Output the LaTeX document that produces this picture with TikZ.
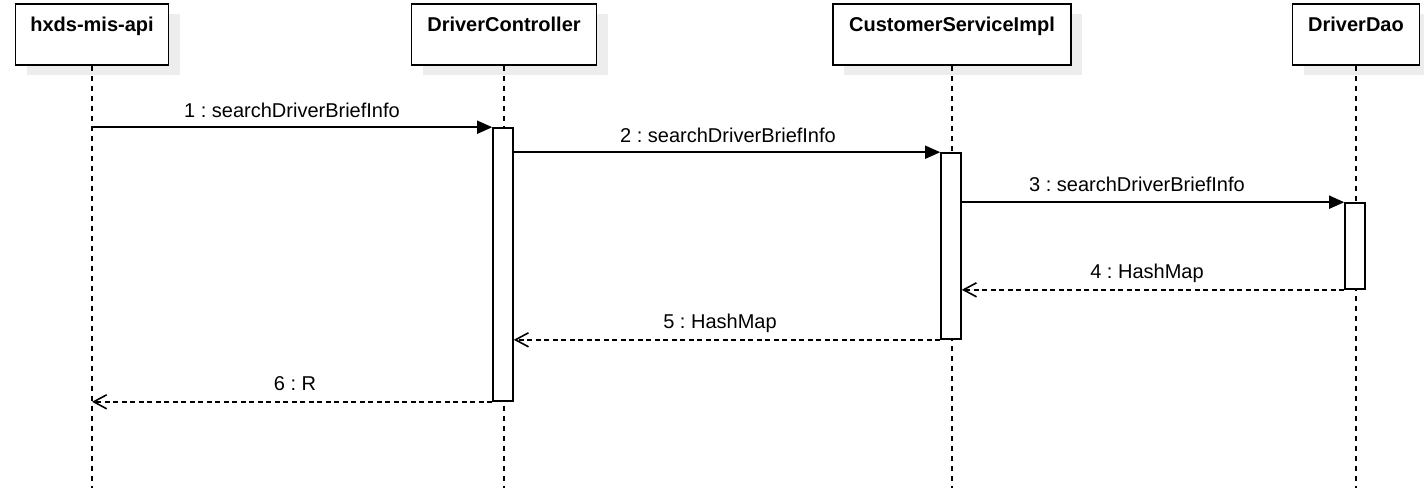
\documentclass[tikz,border=0pt]{standalone}
\usepackage{fontspec}
\setmainfont{Liberation Sans}
\usetikzlibrary{arrows.meta}
\frenchspacing
\begin{document}
\begin{tikzpicture}[x=1pt,y=-1pt,
  line width=1.6pt,
  participant/.style={draw=black, fill=white, inner xsep=0pt, inner ysep=0pt,
    minimum height=61pt, text height=27pt, text depth=34pt,
    font=\fontsize{20}{24}\selectfont\bfseries,
    preaction={fill=black!7, draw=none, transform canvas={xshift=11pt,yshift=-10pt}}},
  activation/.style={draw=black, fill=white, minimum width=20pt, inner sep=0pt},
  lifeline/.style={line width=1.4pt, dash pattern=on 5pt off 5pt},
  callmsg/.style={-{Triangle[length=15pt,width=13pt]}},
  retmsg/.style={-{Straight Barb[length=13pt,width=14pt]}, dash pattern=on 5pt off 3.5pt},
  msglabel/.style={font=\fontsize{20}{24}\selectfont, anchor=base, inner sep=0pt}
]
\useasboundingbox (0,0) rectangle (1424,498);

% participants
\node[participant, minimum width=153pt] (p1) at (92,34.5) {hxds-mis-api};
\node[participant, minimum width=185pt] (p2) at (504,34.5) {DriverController};
\node[participant, minimum width=238pt] (p3) at (952,34.5) {CustomerServiceImpl};
\node[participant, minimum width=127pt] (p4) at (1356,34.5) {DriverDao};

% lifeline ends
\coordinate (e1) at (92,488);
\coordinate (e2) at (504,488);
\coordinate (e3) at (952,488);
\coordinate (e4) at (1356,488);

\draw[lifeline] (p1.south) -- (e1);
\draw[lifeline] (p2.south) -- (e2);
\draw[lifeline] (p3.south) -- (e3);
\draw[lifeline] (p4.south) -- (e4);

% activation bars
\node[activation, minimum height=273pt] (a1) at (503,264.5) {};
\node[activation, minimum height=186pt] (a2) at (951,246) {};
\node[activation, minimum height=86pt] (a3) at (1355,246) {};

% messages
\draw[callmsg] (e1 |- a1.north) -- (a1.north west);
\node[msglabel] (m1) at (292,117) {1 : searchDriverBriefInfo};

\draw[callmsg] (a1.east |- a2.north) -- (a2.north west);
\node[msglabel] (m2) at (728,142) {2 : searchDriverBriefInfo};

\draw[callmsg] (a2.east |- a3.north) -- (a3.north west);
\node[msglabel] (m3) at (1137,191) {3 : searchDriverBriefInfo};

\draw[retmsg] (a3.south west) -- (a2.east |- a3.south);
\node[msglabel] (m4) at (1147,278) {4 : HashMap};

\draw[retmsg] (a2.south west) -- (a1.east |- a2.south);
\node[msglabel] (m5) at (720,328) {5 : HashMap};

\draw[retmsg] (a1.south west) -- (e1 |- a1.south);
\node[msglabel] (m6) at (295,390) {6 : R};
\end{tikzpicture}
\end{document}
